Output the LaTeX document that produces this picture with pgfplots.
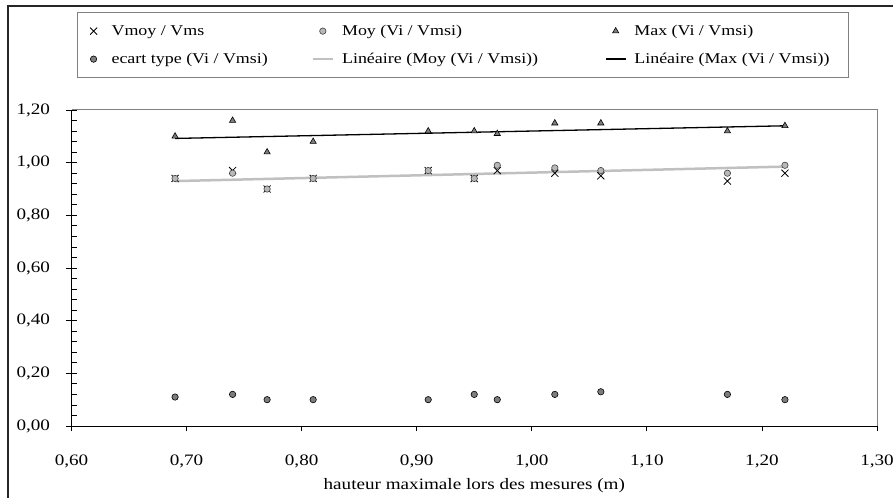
\documentclass[border=0pt]{standalone}
\usepackage{fontspec}
\setmainfont{Liberation Serif}[FakeStretch=1.2]
\usepackage{pgfplots}
\pgfplotsset{compat=1.18}

\definecolor{moyfill}{RGB}{184,184,184}
\definecolor{darkfill}{RGB}{125,125,125}
\definecolor{trendmoy}{RGB}{192,192,192}
\definecolor{boxgray}{RGB}{128,128,128}

\begin{document}
\begin{tikzpicture}
\useasboundingbox (0,0) rectangle (893bp,498bp);
\draw[line width=2bp, black!85] (8bp,0) -- (8bp,492bp) -- (893bp,492bp);
\begin{axis}[
  at={(71.5bp,72bp)}, anchor=south west,
  scale only axis, width=805.5bp, height=316bp,
  xmin=0.6, xmax=1.3, ymin=0, ymax=1.2,
  axis x line*=bottom, axis y line*=left,
  axis line style={line width=1bp},
  clip=false,
  xtick={0.6,0.7,0.8,0.9,1.0,1.1,1.2,1.3},
  ytick={0,0.2,0.4,0.6,0.8,1.0,1.2},
  extra y ticks={0.04,0.08,0.12,0.16,0.24,0.28,0.32,0.36,0.44,0.48,0.52,0.56,0.64,0.68,0.72,0.76,0.84,0.88,0.92,0.96,1.04,1.08,1.12,1.16,0,0.2,0.4,0.6,0.8,1.0,1.2},
  extra y tick labels={},
  extra y tick style={tick align=inside},
  tick align=outside,
  major tick length=5bp,
  tick style={black, line width=0.8bp},
  /pgf/number format/.cd, fixed, fixed zerofill, precision=2, use comma, assume math mode=true,
  /pgfplots/.cd,
  ticklabel style={font=\fontsize{16}{19}\selectfont},
  yticklabel style={xshift=-13bp},
  xticklabel style={yshift=-20bp},
  xlabel={hauteur maximale lors des mesures (m)},
  xlabel style={font=\fontsize{16}{19}\selectfont, yshift=-4bp},
  legend columns=3,
  legend cell align=left,
  legend image code/.code={\path[draw=none,fill=none] (0bp,-12bp) rectangle (20bp,12bp);
    \draw[mark repeat=2,mark phase=2,#1] plot coordinates {(0bp,0bp) (10bp,0bp) (20bp,0bp)};},
  legend style={at={(0.0068,1.31)}, anchor=north west, draw=boxgray, line width=1.2bp,
    font=\fontsize{15}{18}\selectfont, row sep=4bp, inner ysep=6.5bp, inner xsep=6bp,
    /tikz/every odd column/.append style={column sep=6bp},
    /tikz/every even column/.append style={column sep=0bp}},
]

\addplot[only marks, mark=x, mark size=5bp, mark options={black, line width=0.8bp}] coordinates {
  (0.69,0.94) (0.74,0.97) (0.77,0.90) (0.81,0.94) (0.91,0.97) (0.95,0.94)
  (0.97,0.97) (1.02,0.96) (1.06,0.95) (1.17,0.93) (1.22,0.96)
};
\addlegendentry{\makebox[198bp][l]{Vmoy / Vms}}

\addplot[only marks, mark=*, mark size=3.2bp, mark options={draw=black!75, fill=moyfill, line width=0.6bp}] coordinates {
  (0.69,0.94) (0.74,0.96) (0.77,0.90) (0.81,0.94) (0.91,0.97) (0.95,0.94)
  (0.97,0.99) (1.02,0.98) (1.06,0.97) (1.17,0.96) (1.22,0.99)
};
\addlegendentry{\makebox[261bp][l]{Moy (Vi / Vmsi)}}

\addplot[only marks, mark=triangle*, mark size=3.6bp, mark options={draw=black, fill=darkfill, line width=0.6bp}] coordinates {
  (0.69,1.10) (0.74,1.16) (0.77,1.04) (0.81,1.08) (0.91,1.12) (0.95,1.12)
  (0.97,1.11) (1.02,1.15) (1.06,1.15) (1.17,1.12) (1.22,1.14)
};
\addlegendentry{\makebox[206bp][l]{Max (Vi / Vmsi)}}

\addplot[only marks, mark=*, mark size=3.2bp, mark options={draw=black, fill=darkfill, line width=0.6bp}] coordinates {
  (0.69,0.11) (0.74,0.12) (0.77,0.10) (0.81,0.10) (0.91,0.10) (0.95,0.12)
  (0.97,0.10) (1.02,0.12) (1.06,0.13) (1.17,0.12) (1.22,0.10)
};
\addlegendentry{\makebox[198bp][l]{ecart type (Vi / Vmsi)}}

\addplot[trendmoy, line width=2.5bp, no marks] coordinates {(0.69,0.930) (1.22,0.985)};
\addlegendentry{\makebox[261bp][l]{Linéaire (Moy (Vi / Vmsi))}}

\addplot[black, line width=1.3bp, no marks] coordinates {(0.69,1.092) (1.22,1.140)};
\addlegendentry{\makebox[206bp][l]{Linéaire (Max (Vi / Vmsi))}}

\draw[boxgray, line width=1bp] (rel axis cs:0,1) -- (rel axis cs:1,1) -- (rel axis cs:1,0);
\end{axis}
\end{tikzpicture}
\end{document}
